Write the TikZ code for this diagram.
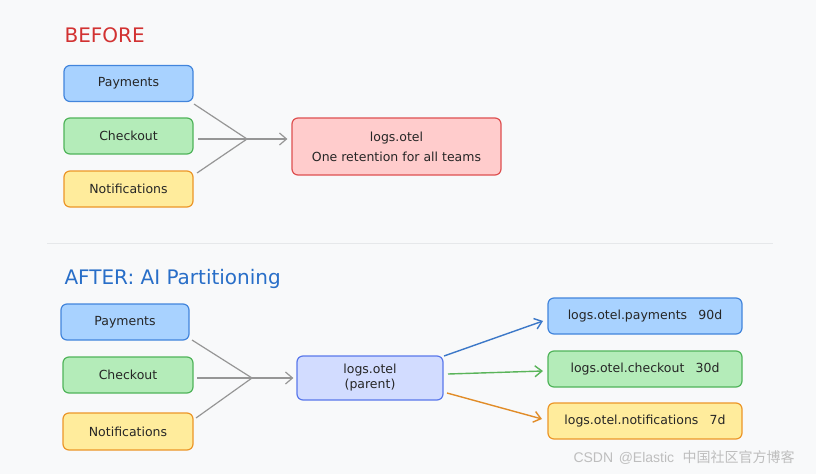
\documentclass[tikz,border=0pt]{standalone}
\usepackage{fontspec}
\setmainfont{DejaVu Sans}
\newfontfamily\cjk{Noto Sans CJK SC}
\newfontfamily\wmfont{Liberation Sans}
\usetikzlibrary{arrows.meta}
\definecolor{bg}{RGB}{248,249,250}
\definecolor{bluefill}{RGB}{168,210,255}
\definecolor{blueline}{RGB}{66,133,220}
\definecolor{greenfill}{RGB}{180,236,185}
\definecolor{greenline}{RGB}{80,180,90}
\definecolor{yellowfill}{RGB}{255,236,156}
\definecolor{yellowline}{RGB}{236,150,40}
\definecolor{redfill}{RGB}{255,204,204}
\definecolor{redline}{RGB}{222,80,80}
\definecolor{parentfill}{RGB}{210,220,255}
\definecolor{parentline}{RGB}{90,120,235}
\definecolor{connector}{RGB}{150,150,150}
\definecolor{titlered}{RGB}{210,50,50}
\definecolor{titleblue}{RGB}{40,110,200}
\definecolor{arrblue}{RGB}{60,120,200}
\definecolor{arrgreen}{RGB}{90,180,90}
\definecolor{arrorange}{RGB}{225,140,40}
\tikzset{
  boxbase/.style={rounded corners=6pt, line width=1.2pt, inner sep=0pt, align=center, text=black!85, font=\fontsize{12.5}{15}\selectfont},
  bluebox/.style={boxbase, fill=bluefill, draw=blueline},
  greenbox/.style={boxbase, fill=greenfill, draw=greenline},
  yellowbox/.style={boxbase, fill=yellowfill, draw=yellowline},
  redbox/.style={boxbase, fill=redfill, draw=redline},
  parentbox/.style={boxbase, fill=parentfill, draw=parentline},
  conn/.style={draw=connector, line width=1.2pt},
  conarrow/.style={conn, -{Straight Barb[length=7pt,width=12pt,line width=1.2pt]}},
  colarrow/.style={line width=1.4pt, -{Straight Barb[length=7pt,width=11pt,line width=1.4pt]}},
  title/.style={font=\fontsize{20}{22}\selectfont, anchor=west}
}
\begin{document}
\begin{tikzpicture}[x=1pt,y=-1pt]
\fill[bg] (0,0) rectangle (816,474);
\useasboundingbox (0,0) rectangle (816,474);

% BEFORE
\node[title, text=titlered] (tb) at (61,35) {BEFORE};
\node[bluebox, minimum width=129pt, minimum height=36pt] (bp) at (128.5,83.5) {Payments};
\node[greenbox, minimum width=129pt, minimum height=36pt] (bc) at (128.5,136) {Checkout};
\node[yellowbox, minimum width=129pt, minimum height=36pt] (bn) at (128.5,189) {Notifications};
\coordinate (bj) at (247,139);
\coordinate (bpo) at (194,104);
\coordinate (bco) at (198,139);
\coordinate (bno) at (197,173);
\node[redbox, minimum width=209pt, minimum height=57pt] (bl) at (396.5,146.5) {logs.otel\\[5pt]One retention for all teams};
\draw[conn] (bpo) -- (bj);
\draw[conn] (bco) -- (bj);
\draw[conn] (bno) -- (bj);
\draw[conarrow] (bj) -- ([xshift=-4pt]bl.west |- bj);

% separator
\coordinate (s1) at (47,243);
\coordinate (s2) at (773,243);
\draw[line width=0.8pt, draw={rgb,255:red,230;green,232;blue,234}] (s1) -- (s2);

% AFTER
\node[title, text=titleblue] (ta) at (61,279) {AFTER: AI Partitioning};
\node[bluebox, minimum width=128pt, minimum height=36pt] (ap) at (125,322) {Payments};
\node[greenbox, minimum width=130pt, minimum height=36pt] (ac) at (128,375) {Checkout};
\node[yellowbox, minimum width=130pt, minimum height=37pt] (an) at (128,431.5) {Notifications};
\coordinate (aj) at (252,378);
\coordinate (apo) at (192,340);
\coordinate (aco) at (197,378);
\coordinate (ano) at (196,418);
\node[parentbox, minimum width=146pt, minimum height=44pt] (par) at (370,378) {logs.otel\\(parent)};
\draw[conn] (apo) -- (aj);
\draw[conn] (aco) -- (aj);
\draw[conn] (ano) -- (aj);
\draw[conarrow] (aj) -- ([xshift=-3pt]par.west |- aj);

\node[bluebox, minimum width=194pt, minimum height=36pt] (rp) at (645,316) {logs.otel.payments\hspace{0.9em}90d};
\node[greenbox, minimum width=194pt, minimum height=36pt] (rc) at (645,369) {logs.otel.checkout\hspace{0.9em}30d};
\node[yellowbox, minimum width=194pt, minimum height=36pt] (rn) at (645,421) {logs.otel.notifications\hspace{0.9em}7d};

\coordinate (pa1) at (444,356);
\coordinate (pa2) at (448,374);
\coordinate (pa3) at (447,393);
\coordinate (ra1) at (543,321);
\coordinate (ra2) at (543,371);
\coordinate (ra3) at (542,419);
\draw[colarrow, draw=arrblue] (pa1) -- (ra1);
\draw[colarrow, draw=arrgreen] (pa2) -- (ra2);
\draw[colarrow, draw=arrorange] (pa3) -- (ra3);

% watermark
\node[anchor=west, text={rgb,255:red,190;green,190;blue,190}, font=\fontsize{14}{16}\selectfont] (wm) at (570,458) {\wmfont CSDN\hspace{0.4em}@Elastic\hspace{0.6em}{\cjk 中国社区官方博客}};
\end{tikzpicture}
\end{document}
